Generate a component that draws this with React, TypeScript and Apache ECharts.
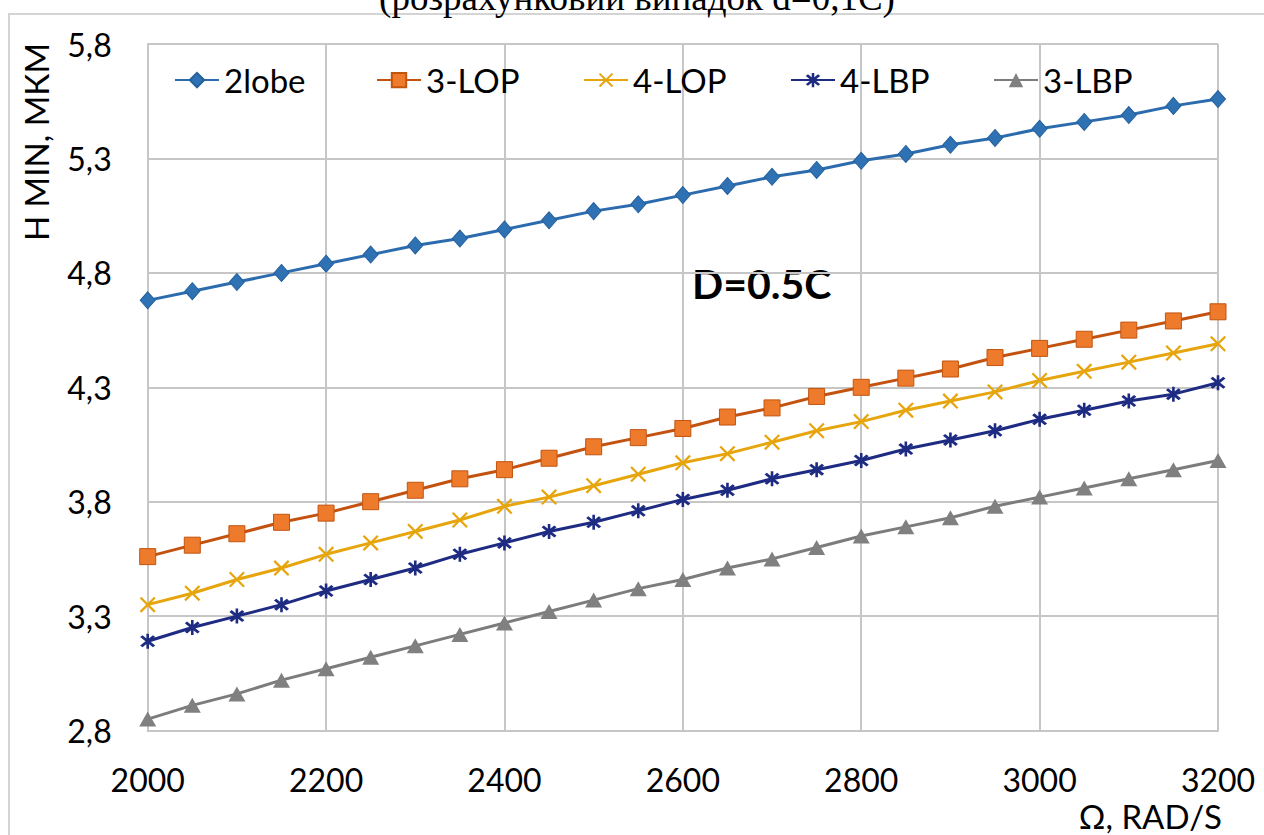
import React, { useEffect, useRef } from "react";
import * as echarts from "echarts";

const omega = [2000, 2050, 2100, 2150, 2200, 2250, 2300, 2350, 2400, 2450, 2500, 2550, 2600, 2650, 2700, 2750, 2800, 2850, 2900, 2950, 3000, 3050, 3100, 3150, 3200];

const lobe2 = [4.68, 4.72, 4.76, 4.80, 4.84, 4.88, 4.92, 4.95, 4.99, 5.03, 5.07, 5.10, 5.14, 5.18, 5.22, 5.25, 5.29, 5.32, 5.36, 5.39, 5.43, 5.46, 5.49, 5.53, 5.56];
const lop3 = [3.56, 3.61, 3.66, 3.71, 3.75, 3.80, 3.85, 3.90, 3.94, 3.99, 4.04, 4.08, 4.12, 4.17, 4.21, 4.26, 4.30, 4.34, 4.38, 4.43, 4.47, 4.51, 4.55, 4.59, 4.63];
const lop4 = [3.35, 3.40, 3.46, 3.51, 3.57, 3.62, 3.67, 3.72, 3.78, 3.82, 3.87, 3.92, 3.97, 4.01, 4.06, 4.11, 4.15, 4.20, 4.24, 4.28, 4.33, 4.37, 4.41, 4.45, 4.49];
const lbp4 = [3.19, 3.25, 3.30, 3.35, 3.41, 3.46, 3.51, 3.57, 3.62, 3.67, 3.71, 3.76, 3.81, 3.85, 3.90, 3.94, 3.98, 4.03, 4.07, 4.11, 4.16, 4.20, 4.24, 4.27, 4.32];
const lbp3 = [2.85, 2.91, 2.96, 3.02, 3.07, 3.12, 3.17, 3.22, 3.27, 3.32, 3.37, 3.42, 3.46, 3.51, 3.55, 3.60, 3.65, 3.69, 3.73, 3.78, 3.82, 3.86, 3.90, 3.94, 3.98];

const seriesNames = ["2lobe", "3-LOP", "4-LOP", "4-LBP", "3-LBP"];
const legendLefts = [174, 376, 583, 790, 993];

const titleText = "(розрахунковий випадок d=0,1C)";
const yName = "H MIN, МКМ";
const xName = "Ω, RAD/S";
const note = "D=0.5C";

const FONT = "Lato";
const GRID = "#C6C6C6";

const xSymbol = "path://M0,1L1,0L10,9L9,10Z M9,0L10,1L1,10L0,9Z";
const starSymbol = "path://M1,2.2L2.2,1L9,7.8L7.8,9Z M7.8,1L9,2.2L2.2,9L1,7.8Z M4.3,0L5.7,0L5.7,10L4.3,10Z";

export default function App() {
  const ref = useRef<HTMLDivElement>(null);
  useEffect(() => {
    if (!ref.current) return;
    const chart = echarts.init(ref.current, null, { renderer: "svg" });
    const pairs = (vals: number[]) => omega.map((x, i) => [x, vals[i]]);
    const styles = [
      { symbol: "diamond", symbolSize: [15, 17], line: "#2C6CAE", fill: "#2E72B4", border: "#25609C" },
      { symbol: "rect", symbolSize: 16, line: "#C4520F", fill: "#EE7A2C", border: "#C25410" },
      { symbol: xSymbol, symbolSize: 16, line: "#E6A50C", fill: "#E6A50C", border: "#E6A50C" },
      { symbol: starSymbol, symbolSize: 15, line: "#1E2B82", fill: "#1E2B82", border: "#1E2B82" },
      { symbol: "triangle", symbolSize: [17, 15], line: "#7C7C7C", fill: "#808080", border: "#7A7A7A" },
    ];
    const allVals = [lobe2, lop3, lop4, lbp4, lbp3];
    chart.setOption({
      animation: false,
      textStyle: { fontFamily: FONT },
      grid: { left: 147.7, right: 46, top: 44.1, bottom: 104.5, containLabel: false, outerBoundsMode: "none" },
      xAxis: {
        type: "value",
        min: 2000,
        max: 3200,
        interval: 200,
        axisLine: { show: true, lineStyle: { color: GRID, width: 2 } },
        axisTick: { show: false },
        axisLabel: { fontSize: 32, color: "#000", fontFamily: FONT, margin: 33, formatter: (v: number) => String(v) },
        splitLine: { show: true, lineStyle: { color: GRID, width: 2 } },
      },
      yAxis: {
        type: "value",
        min: 2.8,
        max: 5.8,
        interval: 0.5,
        axisLine: { show: true, lineStyle: { color: GRID, width: 2 } },
        axisTick: { show: false },
        axisLabel: {
          fontSize: 32,
          color: "#000",
          fontFamily: FONT,
          margin: 36,
          formatter: (v: number) => v.toFixed(1).replace(".", ","),
        },
        splitLine: { show: true, lineStyle: { color: GRID, width: 2 } },
      },
      legend: seriesNames.map((n, i) => ({
        data: [n],
        left: legendLefts[i],
        top: 63.6,
        padding: 0,
        itemWidth: 44,
        itemHeight: 18,
        textStyle: { fontSize: 33, color: "#000", fontFamily: FONT },
      })),
      series: seriesNames.map((n, i) => ({
        name: n,
        type: "line",
        data: pairs(allVals[i]),
        symbol: styles[i].symbol,
        symbolSize: styles[i].symbolSize,
        showAllSymbol: true,
        lineStyle: { color: styles[i].line, width: 3 },
        itemStyle: { color: styles[i].fill, borderColor: styles[i].border, borderWidth: i === 1 || i === 0 ? 1 : 0 },
        z: 10 - i,
      })),
      graphic: [
        {
          type: "rect",
          shape: { x: 9, y: 14, width: 1300, height: 900 },
          style: { fill: "none", stroke: "#D4D4D4", lineWidth: 2 },
          silent: true,
        },
        {
          type: "text",
          x: 637,
          y: -3,
          style: { text: titleText, font: '37px "Liberation Serif"', fill: "#000", textAlign: "center", textVerticalAlign: "middle" },
        },
        {
          type: "text",
          x: 36,
          y: 142,
          rotation: Math.PI / 2,
          style: { text: yName, font: `33px ${FONT}`, fill: "#000", textAlign: "center", textVerticalAlign: "middle" },
        },
        {
          type: "text",
          x: 1222,
          y: 816,
          style: { text: xName, font: `33px ${FONT}`, fill: "#000", textAlign: "right", textVerticalAlign: "middle" },
        },
        {
          type: "text",
          x: 692,
          y: 283,
          style: { text: note, font: `bold 41px ${FONT}`, fill: "#000", textAlign: "left", textVerticalAlign: "middle" },
        },
      ],
    });
    return () => chart.dispose();
  }, []);
  return <div ref={ref} style={{ position: "absolute", left: 0, top: 0, width: 1264, height: 835 }} />;
}
